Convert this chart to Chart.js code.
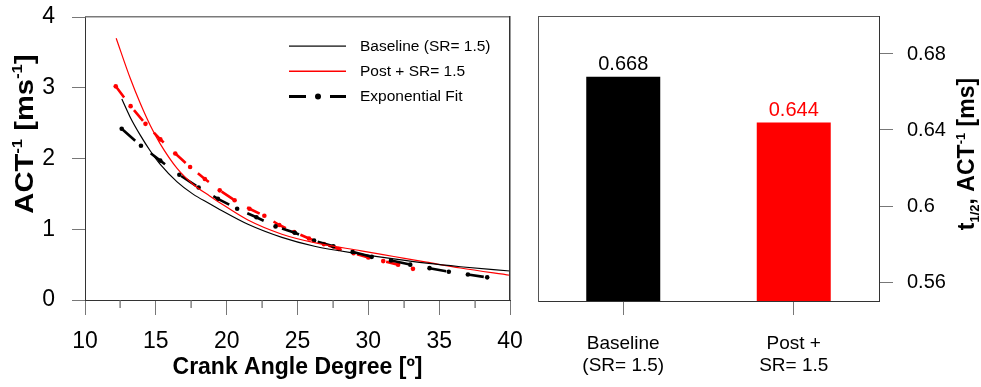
<!DOCTYPE html>
<html><head><meta charset="utf-8">
<script src="https://cdn.jsdelivr.net/npm/chart.js@4.4.1/dist/chart.umd.min.js"></script>
<style>
html,body{margin:0;padding:0;background:#fff;}
#wrap{position:relative;width:981px;height:387px;overflow:hidden;}
#left{position:absolute;left:0;top:0;}
#right{position:absolute;left:520px;top:0;}
#frame{position:absolute;left:0;top:0;pointer-events:none;}
</style></head><body>
<div id="wrap"><canvas id="left" width="540" height="387"></canvas><canvas id="right" width="461" height="387"></canvas><canvas id="frame" width="981" height="387"></canvas></div>
<script>
// ---- data ----
const baselineX = [12.6, 13.2, 13.9, 14.6, 15.3, 16.5, 17.6, 18.8, 19.5, 21.5, 23.9, 26.2, 29.6, 31.8, 34.1, 36.5, 40];
const baselineY = [2.84, 2.58, 2.33, 2.11, 1.92, 1.67, 1.50, 1.36, 1.28, 1.07, 0.885, 0.76, 0.645, 0.58, 0.52, 0.47, 0.41];
const postX = [12.2, 13.2, 13.9, 14.6, 15.3, 16.5, 17.6, 18.8, 19.4, 21.5, 23.9, 26.2, 29.5, 31.8, 34.1, 36.5, 40];
const postY = [3.70, 3.13, 2.78, 2.47, 2.21, 1.86, 1.64, 1.47, 1.39, 1.13, 0.93, 0.81, 0.695, 0.615, 0.535, 0.452, 0.35];
const fitBaseX = [12.59, 13.95, 15.31, 16.66, 18.02, 19.38, 20.74, 22.10, 23.45, 24.81, 26.17, 27.53, 28.89, 30.24, 31.60, 32.96, 34.32, 35.68, 37.03, 38.39];
const fitBaseY = [2.42, 2.18, 1.97, 1.77, 1.59, 1.43, 1.29, 1.17, 1.04, 0.95, 0.84, 0.76, 0.68, 0.61, 0.56, 0.50, 0.45, 0.40, 0.36, 0.32];
const fitPostX = [12.17, 13.22, 14.27, 15.32, 16.37, 17.42, 18.46, 19.51, 20.56, 21.61, 22.66, 23.71, 24.76, 25.81, 26.86, 27.91, 28.96, 30.00, 31.05, 32.10, 33.15];
const fitPostY = [3.02, 2.74, 2.49, 2.27, 2.07, 1.88, 1.71, 1.55, 1.41, 1.29, 1.19, 1.06, 0.96, 0.87, 0.79, 0.72, 0.66, 0.60, 0.55, 0.50, 0.44];
const seriesNames = ['Baseline (SR= 1.5)', 'Post + SR= 1.5', 'Exponential Fit'];
const barCategories = [['Baseline', '(SR= 1.5)'], ['Post +', 'SR= 1.5']];
const barValues = [0.668, 0.644];
const barTicks = [0.56, 0.60, 0.64, 0.68];
const xMajorTicks = [10, 15, 20, 25, 30, 35, 40];
const xMinorTicks = [12.5, 17.5, 22.5, 27.5, 32.5, 37.5];

const FONT = '"Liberation Sans", Arial, Helvetica, sans-serif';
const pts = (xs, ys) => xs.map((x, i) => ({x: x, y: ys[i]}));
const noPad = s => { s.paddingTop = 0; s.paddingBottom = 0; s.paddingLeft = 0; s.paddingRight = 0; };

function drawRich(ctx, parts, cx, cy, rot, stretch) {
  ctx.save();
  ctx.translate(cx, cy);
  ctx.rotate(rot);
  ctx.scale(stretch || 1, 1);
  let total = 0;
  parts.forEach(p => { ctx.font = `bold ${p.s}px ${FONT}`; p.w = ctx.measureText(p.t).width; total += p.w; });
  let x = -total / 2;
  ctx.textBaseline = 'middle'; ctx.textAlign = 'left'; ctx.fillStyle = '#000';
  parts.forEach(p => { ctx.font = `bold ${p.s}px ${FONT}`; ctx.fillText(p.t, x, p.dy || 0); x += p.w; });
  ctx.restore();
}

function rect(ctx, color, x, y, w, h) { ctx.fillStyle = color; ctx.fillRect(x, y, w, h); }

const leftDecor = {
  id: 'leftDecor',
  afterDraw(chart) {
    const ctx = chart.ctx, a = chart.chartArea, xs = chart.scales.x;
    const L = Math.round(a.left), R = Math.round(a.right), T = Math.round(a.top), B = Math.round(a.bottom);
    // plot frame and minor ticks on an overlay layer, positioned from the chart's own scales
    const fctx = document.getElementById('frame').getContext('2d');
    fctx.clearRect(0, 0, 540, 387);
    rect(fctx, '#7a7a7a', L, T - 1, R - L, 1.5);
    rect(fctx, '#333333', R - 1, T - 1, 1.5, B - T + 1);
    xMinorTicks.forEach(v => {
      const px = Math.round(xs.getPixelForValue(v));
      rect(fctx, '#666666', px - 0.5, B, 1.2, 8);
    });
    ctx.save();
    const rows = [46, 71, 96];
    rect(ctx, '#000000', 289, rows[0] - 0.5, 57, 1.2);
    rect(ctx, '#ff0000', 289, rows[1] - 0.5, 57, 1.5);
    rect(ctx, '#000000', 289, rows[2] - 1, 17, 3);
    rect(ctx, '#000000', 330, rows[2] - 1, 16, 3);
    ctx.fillStyle = '#000000';
    ctx.beginPath(); ctx.arc(318, rows[2] + 0.5, 3, 0, Math.PI * 2); ctx.fill();
    ctx.font = `15.5px ${FONT}`; ctx.textBaseline = 'middle'; ctx.textAlign = 'left'; ctx.fillStyle = '#000';
    seriesNames.forEach((n, i) => ctx.fillText(n, 360, rows[i] + 0.5));
    ctx.restore();
    drawRich(ctx, [{t: 'ACT', s: 26}, {t: '-1', s: 15, dy: -8}, {t: ' [ms', s: 26}, {t: '-1', s: 15, dy: -8}, {t: ']', s: 26}], 26, 134, -Math.PI / 2, 1.12);
  }
};

new Chart(document.getElementById('left'), {
  type: 'line',
  data: {
    datasets: [
      {label: seriesNames[0], data: pts(baselineX, baselineY), borderColor: '#000', borderWidth: 1.2, pointRadius: 0, cubicInterpolationMode: 'monotone', fill: false},
      {label: seriesNames[1], data: pts(postX, postY), borderColor: '#ff0000', borderWidth: 1.2, pointRadius: 0, cubicInterpolationMode: 'monotone', fill: false},
      {label: seriesNames[2], data: pts(fitBaseX, fitBaseY), borderColor: '#000', backgroundColor: '#000', borderWidth: 2.6, borderDash: [18, 20], tension: 0, pointRadius: 2.3, pointBackgroundColor: '#000', pointBorderWidth: 0, fill: false},
      {label: 'fit post', data: pts(fitPostX, fitPostY), borderColor: '#ff0000', backgroundColor: '#ff0000', borderWidth: 2.6, borderDash: [14, 16], tension: 0, pointRadius: 2.3, pointBackgroundColor: '#ff0000', pointBorderWidth: 0, fill: false}
    ]
  },
  options: {
    responsive: false, animation: false, devicePixelRatio: 1,
    layout: {padding: {top: 17, right: 30, left: 0, bottom: 0}},
    plugins: {legend: {display: false}, tooltip: {enabled: false}},
    scales: {
      x: {
        type: 'linear', position: 'bottom', min: 10, max: 40,
        afterBuildTicks: s => { s.ticks = xMajorTicks.map(v => ({value: v})); },
        afterFit: s => { s.height = 87; noPad(s); },
        ticks: {font: {family: FONT, size: 23}, color: '#000', padding: 13, maxRotation: 0, autoSkip: false},
        grid: {drawOnChartArea: false, tickLength: 15, color: '#777'},
        border: {color: '#333', width: 1},
        title: {display: true, text: 'Crank Angle Degree [º]', font: {family: FONT, size: 23, weight: 'bold'}, color: '#000', padding: {top: 0, bottom: 6}}
      },
      y: {
        position: 'left', min: 0, max: 4,
        ticks: {stepSize: 1, font: {family: FONT, size: 23}, color: '#000', padding: 17},
        afterFit: s => { s.width = 85; noPad(s); },
        grid: {drawOnChartArea: false, tickLength: 13, color: '#777'},
        border: {color: '#333', width: 1}
      }
    }
  },
  plugins: [leftDecor]
});

const rightDecor = {
  id: 'rightDecor',
  afterDraw(chart) {
    const ctx = chart.ctx;
    ctx.save();
    const meta = chart.getDatasetMeta(0);
    ctx.font = `20px ${FONT}`; ctx.textAlign = 'center'; ctx.textBaseline = 'bottom';
    meta.data.forEach((el, i) => {
      ctx.fillStyle = i === 0 ? '#000' : '#ff0000';
      ctx.fillText(barValues[i].toFixed(3), el.x, el.y - 2);
    });
    ctx.restore();
    drawRich(ctx, [{t: 't', s: 23}, {t: '1/2', s: 13, dy: 7}, {t: ', ACT', s: 23}, {t: '-1', s: 13, dy: -7}, {t: ' [ms]', s: 23}], 448, 154, -Math.PI / 2, 1);
  }
};

new Chart(document.getElementById('right'), {
  type: 'bar',
  data: {
    labels: barCategories,
    datasets: [{data: barValues, backgroundColor: ['#000', '#ff0000'], borderWidth: 0, barPercentage: 0.434, categoryPercentage: 1}]
  },
  options: {
    responsive: false, animation: false, devicePixelRatio: 1,
    layout: {padding: {top: 16, left: 18, right: 0, bottom: 0}},
    plugins: {legend: {display: false}, tooltip: {enabled: false}},
    scales: {
      x: {
        afterFit: s => { s.height = 86; noPad(s); },
        ticks: {font: {family: FONT, size: 19, lineHeight: 1.15}, color: '#000', padding: 18, maxRotation: 0},
        grid: {offset: false, drawOnChartArea: false, tickLength: 14, color: '#777'},
        border: {color: '#333', width: 1}
      },
      xTop: {
        position: 'top', type: 'category',
        afterFit: s => { s.height = 0; noPad(s); },
        ticks: {display: false},
        grid: {drawOnChartArea: false, drawTicks: false},
        border: {display: true, color: '#555', width: 1}
      },
      yLeft: {
        position: 'left', min: 0.55, max: 0.70,
        afterFit: s => { s.width = 0; noPad(s); },
        ticks: {display: false},
        grid: {drawOnChartArea: false, drawTicks: false},
        border: {display: true, color: '#555', width: 1}
      },
      y: {
        position: 'right', min: 0.55, max: 0.70,
        afterBuildTicks: s => { s.ticks = barTicks.map(v => ({value: v})); },
        afterFit: s => { s.width = 102; noPad(s); },
        ticks: {font: {family: FONT, size: 20}, color: '#000', padding: 14, callback: v => String(+v.toFixed(2))},
        grid: {drawOnChartArea: false, tickLength: 14, color: '#777'},
        border: {color: '#333', width: 1}
      }
    }
  },
  plugins: [rightDecor]
});
</script>
</body></html>
